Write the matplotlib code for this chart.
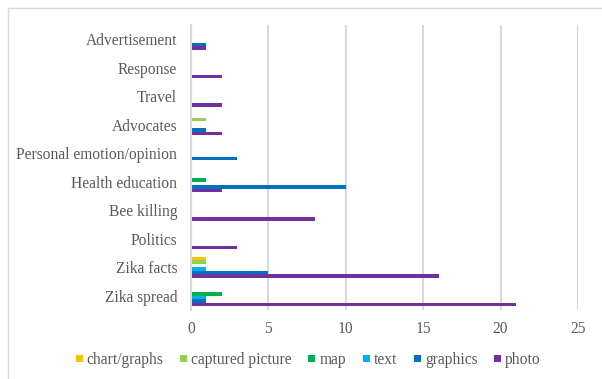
import matplotlib.pyplot as plt
from matplotlib.patches import Rectangle
import numpy as np

# categories listed bottom to top
categories = ['Zika spread', 'Zika facts', 'Politics', 'Bee killing', 'Health education',
              'Personal emotion/opinion', 'Advocates', 'Travel', 'Response', 'Advertisement']

series_names = ['chart/graphs', 'captured picture', 'map', 'text', 'graphics', 'photo']
series_colors = ['#FFC000', '#92D050', '#00B050', '#00B0F0', '#0070C0', '#7030A0']

chart_graphs = [0, 1, 0, 0, 0, 0, 0, 0, 0, 0]
captured_picture = [0, 1, 0, 0, 0, 0, 1, 0, 0, 0]
map_counts = [2, 0, 0, 0, 1, 0, 0, 0, 0, 0]
text_counts = [1, 1, 0, 0, 0, 0, 0, 0, 0, 0]
graphics = [1, 5, 0, 0, 10, 3, 1, 0, 0, 1]
photo = [21, 16, 3, 8, 2, 0, 2, 2, 2, 1]

series_values = [chart_graphs, captured_picture, map_counts, text_counts, graphics, photo]

serif = ['Liberation Serif', 'DejaVu Serif']
plt.rcParams['font.family'] = serif
text_color = '#595959'
grid_color = '#D9D9D9'
fsize = 11.2

fig = plt.figure(figsize=(6.02, 3.79), dpi=100)
ax = fig.add_axes([0.3173, 0.182, 0.6427, 0.752])

y = np.arange(len(categories))
h = 0.123
handles = []
for i, (name, vals, col) in enumerate(zip(series_names, series_values, series_colors)):
    b = ax.barh(y + (2.5 - i) * h, vals, height=h, color=col, label=name)
    handles.append(b)

ax.set_xlim(0, 25)
ax.set_ylim(-0.5, len(categories) - 0.5)
ax.set_xticks(range(0, 26, 5))
ax.set_yticks(y)
ax.set_yticklabels(categories)
ax.tick_params(length=0, labelsize=fsize, colors=text_color)
ax.tick_params(axis='y', pad=10)
ax.tick_params(axis='x', pad=8)
ax.grid(axis='x', color=grid_color, linewidth=1.5)
ax.set_axisbelow(True)
for s in ['top', 'right', 'bottom']:
    ax.spines[s].set_visible(False)
ax.spines['left'].set_color(grid_color)
ax.spines['left'].set_linewidth(1.5)

leg = fig.legend(handles=handles, labels=series_names, loc='center', bbox_to_anchor=(0.512, 0.05),
                 ncol=6, frameon=False, fontsize=fsize, labelcolor=text_color,
                 handlelength=0.45, handleheight=0.3, handletextpad=0.28, columnspacing=1.05)
for t in leg.get_texts():
    t.set_fontfamily(serif)

# chart area border
fig.add_artist(Rectangle((8 / 602, -0.1), 1.2, 1.1 - 8 / 379, transform=fig.transFigure,
                         fill=False, edgecolor='#D9D9D9', linewidth=1))

fig.savefig('out.png', dpi=100)
